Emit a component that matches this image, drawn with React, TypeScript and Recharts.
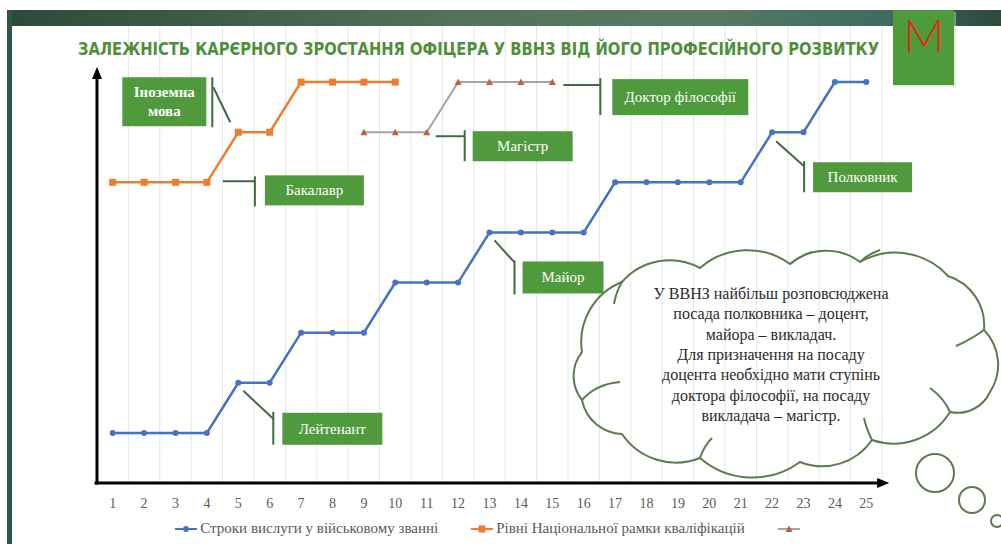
import React from 'react';
import { LineChart, Line, XAxis, YAxis, ReferenceLine, ReferenceDot, Legend } from 'recharts';

// ---------- data ----------
const categories = [1, 2, 3, 4, 5, 6, 7, 8, 9, 10, 11, 12, 13, 14, 15, 16, 17, 18, 19, 20, 21, 22, 23, 24, 25];
const serviceYears = [1, 1, 1, 1, 2, 2, 3, 3, 3, 4, 4, 4, 5, 5, 5, 5, 6, 6, 6, 6, 6, 7, 7, 8, 8];
const nqfLevels: (number | null)[] = [6, 6, 6, 6, 7, 7, 8, 8, 8, 8, null, null, null, null, null, null, null, null, null, null, null, null, null, null, null];
const degreeLevels: (number | null)[] = [null, null, null, null, null, null, null, null, 7, 7, 7, 8, 8, 8, 8, null, null, null, null, null, null, null, null, null, null];
const seriesNames = ['Строки вислуги у військовому званні', 'Рівні Національної рамки кваліфікацій', ''];
const titleText = 'ЗАЛЕЖНІСТЬ КАРЄРНОГО ЗРОСТАННЯ ОФІЦЕРА У ВВНЗ ВІД ЙОГО ПРОФЕСІЙНОГО РОЗВИТКУ';
const cloudLines = [
  'У ВВНЗ найбільш розповсюджена',
  'посада полковника – доцент,',
  'майора – викладач.',
  'Для призначення на посаду',
  'доцента необхідно мати ступінь',
  'доктора філософії, на посаду',
  'викладача – магістр.',
];
const logoLetter = 'М';

const data = categories.map((c, i) => ({
  x: c,
  service: serviceYears[i],
  nqf: nqfLevels[i],
  degree: degreeLevels[i],
}));

// ---------- style ----------
const W = 1001;
const H = 544;
const BLUE = '#4472C4';
const ORANGE = '#ED7D31';
const GRAY = '#A5A5A5';
const TRI = '#C0622E';
const BOX = '#4f9a3c';
const LEADER = '#3e6b40';
const SERIF = 'Liberation Serif, DejaVu Serif, Noto Serif, Times New Roman, serif';
const CLOUD = '#5d7b4c';

const blueDot = (p: any) =>
  p.cy == null ? <g key={'b' + p.index} /> : <circle key={'b' + p.index} cx={p.cx} cy={p.cy} r={3} fill={BLUE} />;
const squareDot = (p: any) =>
  p.cy == null ? <g key={'s' + p.index} /> : <rect key={'s' + p.index} x={p.cx - 3.5} y={p.cy - 3.5} width={7} height={7} fill={ORANGE} />;
const triDot = (p: any) =>
  p.cy == null ? (
    <g key={'t' + p.index} />
  ) : (
    <polygon key={'t' + p.index} points={`${p.cx - 3.5},${p.cy + 3} ${p.cx + 3.5},${p.cy + 3} ${p.cx},${p.cy - 3.5}`} fill={TRI} />
  );

type CalloutSpec = { lines: string[]; bold?: boolean; leader: number[]; bar: number[]; box: number[] };
const makeCallout = (spec: CalloutSpec) => (props: any) => {
  const { cx, cy } = props;
  const [x0, y0, x1, y1] = spec.box;
  const [lx1, ly1, lx2, ly2] = spec.leader;
  const [bx, by1, by2] = spec.bar;
  const midX = cx + (x0 + x1) / 2;
  const midY = cy + (y0 + y1) / 2;
  const n = spec.lines.length;
  return (
    <g>
      <line x1={cx + lx1} y1={cy + ly1} x2={cx + lx2} y2={cy + ly2} stroke={LEADER} strokeWidth={2} />
      <line x1={cx + bx} y1={cy + by1} x2={cx + bx} y2={cy + by2} stroke={LEADER} strokeWidth={2} />
      <rect x={cx + x0} y={cy + y0} width={x1 - x0} height={y1 - y0} fill={BOX} />
      {spec.lines.map((t, i) => (
        <text
          key={i}
          x={midX}
          y={midY + (i - (n - 1) / 2) * 19 + 5}
          textAnchor="middle"
          fill="#ffffff"
          style={{ fontFamily: SERIF }}
          fontSize={15}
          fontWeight={spec.bold ? 700 : 400}
        >
          {t}
        </text>
      ))}
    </g>
  );
};

const axisArrow = (dir: 'x' | 'y') => (props: any) => {
  const { x1, y1, x2, y2 } = props;
  if (dir === 'y') {
    return (
      <g>
        <line x1={x1} y1={y1 + 1.5} x2={x2} y2={y2 + 8} stroke="#000" strokeWidth={3} />
        <polygon points={`${x2 - 5},${y2 + 12} ${x2 + 5},${y2 + 12} ${x2},${y2}`} fill="#000" />
      </g>
    );
  }
  return (
    <g>
      <line x1={x1 - 2.5} y1={y1} x2={x2 - 4} y2={y2} stroke="#000" strokeWidth={3} />
      <polygon points={`${x2 - 8},${y2 - 5} ${x2 - 8},${y2 + 5} ${x2 + 4},${y2}`} fill="#000" />
    </g>
  );
};

const legendIcon = (key: string) => {
  if (key === 'service')
    return (
      <svg width={24} height={10}>
        <line x1={1} y1={5} x2={23} y2={5} stroke={BLUE} strokeWidth={2} />
        <circle cx={12} cy={5} r={3} fill={BLUE} />
      </svg>
    );
  if (key === 'nqf')
    return (
      <svg width={24} height={10}>
        <line x1={1} y1={5} x2={23} y2={5} stroke={ORANGE} strokeWidth={2} />
        <rect x={8.5} y={1.5} width={7} height={7} fill={ORANGE} />
      </svg>
    );
  return (
    <svg width={24} height={10}>
      <line x1={1} y1={5} x2={23} y2={5} stroke={GRAY} strokeWidth={2} />
      <polygon points="8.5,8 15.5,8 12,1.5" fill={TRI} />
    </svg>
  );
};

const keyOrder = ['service', 'nqf', 'degree'];
const renderLegend = (props: any) => {
  const items = ([...(props.payload || [])] as any[]).sort(
    (a, b) => keyOrder.indexOf(String(a.dataKey)) - keyOrder.indexOf(String(b.dataKey))
  );
  return (
    <div style={{ display: 'flex', justifyContent: 'center', alignItems: 'center', fontFamily: SERIF, fontSize: 15, color: '#595959' }}>
      {items.map((it, i) => {
        const k = String(it.dataKey);
        const name = seriesNames[keyOrder.indexOf(k)] ?? '';
        return (
          <div key={k} style={{ display: 'flex', alignItems: 'center', marginRight: i < items.length - 1 ? 32 : 0 }}>
            {legendIcon(k)}
            <span style={{ marginLeft: 2 }}>{name}</span>
          </div>
        );
      })}
    </div>
  );
};

function cloudPath(pts: number[][]) {
  let d = `M${pts[0][0]},${pts[0][1]}`;
  for (let i = 1; i <= pts.length; i++) {
    const a = pts[i - 1];
    const b = pts[i % pts.length];
    const r = Math.hypot(b[0] - a[0], b[1] - a[1]) * 0.8;
    d += ` A${r.toFixed(1)},${r.toFixed(1)} 0 0 1 ${b[0]},${b[1]}`;
  }
  return d + ' Z';
}
const cloudOutline = [
  [582, 352], [622, 282], [700, 268], [790, 264], [860, 262], [948, 276], [984, 330],
  [990, 392], [950, 412], [872, 440], [800, 462], [700, 458], [622, 434], [582, 400],
];
const cloudInner = [
  'M790,264 Q800,256 812,252',
  'M860,262 Q868,254 880,250',
  'M622,282 Q616,292 614,304',
  'M582,400 Q596,384 620,382',
  'M700,458 Q704,446 712,438',
  'M872,440 Q866,428 864,418',
  'M950,412 Q944,398 930,388',
  'M984,330 Q970,340 956,346',
];

export default function App() {
  return (
    <div style={{ position: 'absolute', left: 0, top: 0, width: W, height: H, background: '#ffffff', overflow: 'hidden' }}>
      <LineChart width={W} height={H} data={data} margin={{ top: 26, right: 119, bottom: 31, left: 97 }}>
        <XAxis
          dataKey="x"
          type="number"
          domain={[0.5, 25.5]}
          allowDataOverflow
          ticks={categories}
          interval={0}
          axisLine={false}
          tickLine={false}
          height={30}
          tickMargin={9}
          tick={{ fill: '#5a5a5a', fontSize: 14, style: { fontFamily: SERIF } }}
        />
        <YAxis type="number" domain={[0, 9.12]} allowDataOverflow hide />
        {categories.map((c) => (
          <ReferenceLine key={'g' + c} x={c + 0.5} stroke="#e5e5e5" strokeWidth={1} ifOverflow="visible" />
        ))}
        <ReferenceLine segment={[{ x: 0.5, y: 0 }, { x: 0.5, y: 8.3 }]} ifOverflow="visible" shape={axisArrow('y')} />
        <ReferenceLine segment={[{ x: 0.5, y: 0 }, { x: 25.6, y: 0 }]} ifOverflow="visible" shape={axisArrow('x')} />
        <Line dataKey="service" name={seriesNames[0]} stroke={BLUE} strokeWidth={2.5} dot={blueDot} isAnimationActive={false} />
        <Line dataKey="nqf" name={seriesNames[1]} stroke={ORANGE} strokeWidth={2.5} dot={squareDot} isAnimationActive={false} />
        <Line dataKey="degree" name={seriesNames[2] || ' '} stroke={GRAY} strokeWidth={2} dot={triDot} isAnimationActive={false} />
        <ReferenceDot x={categories[4]} y={nqfLevels[4] as number} ifOverflow="visible"
          shape={makeCallout({ lines: ['Іноземна', 'мова'], bold: true, leader: [-8, -10, -25, -45], bar: [-26, -55, -5], box: [-116, -55, -32, -6] })} />
        <ReferenceDot x={categories[3]} y={nqfLevels[3] as number} ifOverflow="visible"
          shape={makeCallout({ lines: ['Бакалавр'], leader: [16, -1, 48, -1], bar: [48, -6, 24], box: [58, -7, 157, 23] })} />
        <ReferenceDot x={categories[10]} y={degreeLevels[10] as number} ifOverflow="visible"
          shape={makeCallout({ lines: ['Магістр'], leader: [9, 4, 38, 4], bar: [38, -2, 29], box: [46, -1, 146, 29] })} />
        <ReferenceDot x={categories[14]} y={degreeLevels[14] as number} ifOverflow="visible"
          shape={makeCallout({ lines: ['Доктор філософії'], leader: [11, 3, 48, 3], bar: [48, -4, 33], box: [60, -3, 196, 33] })} />
        <ReferenceDot x={categories[4]} y={serviceYears[4]} ifOverflow="visible"
          shape={makeCallout({ lines: ['Лейтенант'], leader: [5, 8, 35, 36], bar: [35, 29, 62], box: [44, 30, 144, 62] })} />
        <ReferenceDot x={categories[12]} y={serviceYears[12]} ifOverflow="visible"
          shape={makeCallout({ lines: ['Майор'], leader: [5, 8, 25, 30], bar: [25, 28, 62], box: [33, 29, 114, 61] })} />
        <ReferenceDot x={categories[21]} y={serviceYears[21]} ifOverflow="visible"
          shape={makeCallout({ lines: ['Полковник'], leader: [4, 9, 32, 34], bar: [32, 29, 60], box: [41, 30, 140, 60] })} />
        <Legend verticalAlign="middle" layout="horizontal" wrapperStyle={{ left: 0, top: 520, width: 977 }} content={renderLegend} />
      </LineChart>
      <svg width={W} height={H} style={{ position: 'absolute', left: 0, top: 0, pointerEvents: 'none' }}>
        <defs>
          <linearGradient id="hdr" x1="0" x2="1" y1="0" y2="0">
            <stop offset="0" stopColor="#2c4a3a" />
            <stop offset="0.45" stopColor="#527359" />
            <stop offset="0.7" stopColor="#587a63" />
            <stop offset="0.88" stopColor="#3e6c62" />
            <stop offset="1" stopColor="#2b4a3a" />
          </linearGradient>
        </defs>
        <rect x={7} y={10} width={W - 7} height={16} fill="url(#hdr)" />
        <rect x={7} y={10} width={5} height={H - 10} fill="#2e5743" />
        <rect x={895} y={12} width={61} height={75} fill="#cfd6cc" opacity={0.5} />
        <rect x={893} y={10} width={61} height={75} fill="#4d9b3a" />
        <text x={924} y={52} textAnchor="middle" fill="#e3261b" fontSize={45} fontWeight={300} style={{ fontFamily: "Lato, 'Liberation Sans', sans-serif" }}>
          {logoLetter}
        </text>
        <text x={78} y={55} textLength={801} lengthAdjust="spacingAndGlyphs" fill="#4f8f3b" fontSize={17} fontWeight={700}
          style={{ fontFamily: "'Liberation Sans Narrow', 'DejaVu Sans Condensed', 'Open Sans', sans-serif" }}>
          {titleText}
        </text>
        <path d={cloudPath(cloudOutline)} fill="none" stroke={CLOUD} strokeWidth={2} />
        {cloudInner.map((d, i) => (
          <path key={i} d={d} fill="none" stroke={CLOUD} strokeWidth={2} />
        ))}
        <circle cx={935} cy={473} r={19} fill="none" stroke={CLOUD} strokeWidth={2} />
        <circle cx={972} cy={500} r={13} fill="none" stroke={CLOUD} strokeWidth={2} />
        <circle cx={997} cy={521} r={6} fill="none" stroke={CLOUD} strokeWidth={2} />
        {cloudLines.map((t, i) => (
          <text key={i} x={771} y={299 + i * 20.3} textAnchor="middle" fill="#2b2b2b" fontSize={16} style={{ fontFamily: SERIF }}>
            {t}
          </text>
        ))}
      </svg>
    </div>
  );
}
